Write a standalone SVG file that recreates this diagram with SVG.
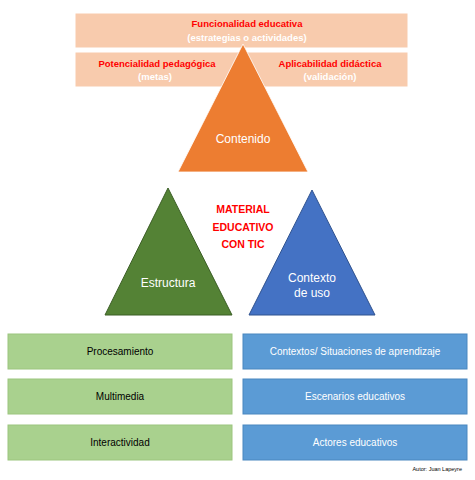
<svg xmlns="http://www.w3.org/2000/svg" width="475" height="480" viewBox="0 0 475 480">
<style>
text{font-family:"Liberation Sans",Arial,sans-serif;text-anchor:middle}
.top{fill:#f8cbad;stroke:#ffffff;stroke-width:1}
.red{fill:#ff0000;font-weight:bold;font-size:9.5px}
.sub{fill:#ffffff;font-weight:bold;font-size:9.5px}
.tri{font-size:12px;fill:#ffffff}
.g{fill:#a9d18e;stroke:#9cc57f;stroke-width:1}
.b{fill:#5b9bd5;stroke:#4a87bf;stroke-width:1}
.gt{font-size:10px;fill:#000000}
.bt{font-size:10px;fill:#ffffff}
</style>
<rect width="475" height="480" fill="#ffffff"/>
<g id="funcionalidad">
<rect class="top" x="75" y="13" width="333" height="35"/>
<text class="red" x="247" y="27">Funcionalidad educativa</text>
<text class="sub" x="247" y="41">(estrategias o actividades)</text>
</g>
<g id="potencialidad">
<rect class="top" x="75" y="52" width="166" height="35"/>
<text class="red" x="157" y="67">Potencialidad pedagógica</text>
<text class="sub" x="155" y="80">(metas)</text>
</g>
<g id="aplicabilidad">
<rect class="top" x="241" y="52" width="167" height="35"/>
<text class="red" x="330" y="67">Aplicabilidad didáctica</text>
<text class="sub" x="330" y="80">(validación)</text>
</g>
<g id="contenido">
<polygon points="243,44 308,172 178,172" fill="#ed7d31" stroke="#ffffff" stroke-width="0.8"/>
<text class="tri" x="243" y="143">Contenido</text>
</g>
<g id="estructura">
<polygon points="168,188 232,315 105,315" fill="#548235" stroke="#3b5e25" stroke-width="1"/>
<text class="tri" x="168" y="287">Estructura</text>
</g>
<g id="contexto">
<polygon points="312,190 375,315 249,315" fill="#4472c4" stroke="#2f528f" stroke-width="1"/>
<text class="tri" x="312" y="282">Contexto</text>
<text class="tri" x="312" y="297">de uso</text>
</g>
<g id="material">
<text class="red" style="font-size:10.5px" x="243" y="213">MATERIAL</text>
<text class="red" style="font-size:10.5px" x="243" y="231">EDUCATIVO</text>
<text class="red" style="font-size:10.5px" x="243" y="248">CON TIC</text>
</g>
<g id="procesamiento">
<rect class="g" x="8" y="334" width="224" height="35"/>
<text class="gt" x="120" y="355">Procesamiento</text>
</g>
<g id="multimedia">
<rect class="g" x="8" y="379" width="224" height="35"/>
<text class="gt" x="120" y="400">Multimedia</text>
</g>
<g id="interactividad">
<rect class="g" x="8" y="425" width="224" height="35"/>
<text class="gt" x="120" y="446">Interactividad</text>
</g>
<g id="contextos">
<rect class="b" x="243" y="334" width="224" height="35"/>
<text class="bt" x="355" y="355">Contextos/ Situaciones de aprendizaje</text>
</g>
<g id="escenarios">
<rect class="b" x="243" y="379" width="224" height="35"/>
<text class="bt" x="355" y="400">Escenarios educativos</text>
</g>
<g id="actores">
<rect class="b" x="243" y="425" width="224" height="35"/>
<text class="bt" x="355" y="446">Actores educativos</text>
</g>
<g id="connectors"></g>
<text x="462" y="471" style="font-size:5.5px;text-anchor:end;fill:#000000">Autor: Juan Lapeyre</text>
</svg>
